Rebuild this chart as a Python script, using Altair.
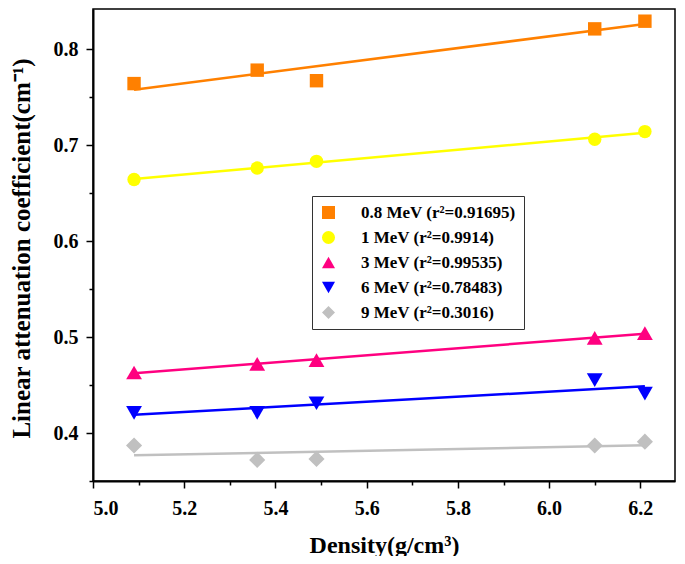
import altair as alt
import pandas as pd

# densities (g/cm3) shared by all energies
density = [5.09, 5.36, 5.49, 6.10, 6.21]

series = [
    "0.8 MeV (r²=0.91695)",
    "1 MeV (r²=0.9914)",
    "3 MeV (r²=0.99535)",
    "6 MeV (r²=0.78483)",
    "9 MeV (r²=0.3016)",
]
mu_08 = [0.764, 0.778, 0.767, 0.821, 0.829]
mu_1 = [0.664, 0.676, 0.683, 0.706, 0.714]
mu_3 = [0.463, 0.472, 0.476, 0.499, 0.504]
mu_6 = [0.421, 0.421, 0.431, 0.455, 0.441]
mu_9 = [0.387, 0.372, 0.373, 0.387, 0.391]

colors = ["#FF8000", "#FFFF00", "#FF0080", "#0000FF", "#C0C0C0"]
shapes = ["square", "circle", "triangle-up", "triangle-down", "diamond"]

x_major = [5.0, 5.2, 5.4, 5.6, 5.8, 6.0, 6.2]
x_minor = [5.1, 5.3, 5.5, 5.7, 5.9, 6.1]
y_major = [0.4, 0.5, 0.6, 0.7, 0.8]
y_minor = [0.35, 0.45, 0.55, 0.65, 0.75]

rows = []
for name, vals in zip(series, [mu_08, mu_1, mu_3, mu_6, mu_9]):
    for d, v in zip(density, vals):
        rows.append({"series": name, "density": d, "mu": v})
df = pd.DataFrame(rows)

FONT = "Liberation Serif"
W, H = 582, 472

# the frame is cut a little inside the round numbers, like the original
xs = alt.Scale(domain=[5.0, 6.276], nice=False, zero=False)
ys = alt.Scale(domain=[0.35, 0.8417], nice=False, zero=False)
cs = alt.Scale(domain=series, range=colors)
ss = alt.Scale(domain=series, range=shapes)

x_axis = alt.Axis(
    orient="bottom", values=x_major, format=".1f", tickSize=7,
    labelPadding=10, title="Density(g/cm³)", titleX=W / 2, titleY=64,
    titleBaseline="middle", titleAlign="center", titleFontSize=24,
)
y_axis = alt.Axis(
    orient="left", values=y_major, format=".1f", tickSize=7,
    labelPadding=8, title="Linear attenuation coefficient(cm⁻¹)",
    titleX=-72, titleY=H / 2 + 3, titleAngle=270, titleBaseline="middle",
    titleAlign="center", titleFontSize=25,
)

# one fitted line per energy, fixed colour (keeps the legend free of line marks)
fits = []
for name, col in zip(series, colors):
    fits.append(
        alt.Chart(df)
        .transform_filter(alt.datum.series == name)
        .transform_regression("density", "mu")
        .mark_line(color=col, strokeWidth=2.5)
        .encode(
            x=alt.X("density:Q", scale=xs, axis=None),
            y=alt.Y("mu:Q", scale=ys, axis=None),
        )
    )

leg = alt.Legend(
    title=None, orient="none", legendX=219, legendY=187,
    symbolSize=170, symbolOpacity=1, symbolStrokeWidth=0,
)

tri = alt.FieldOneOfPredicate(field="series", oneOf=[series[2], series[3]])
dia = alt.FieldOneOfPredicate(field="series", oneOf=[series[4]])

points = (
    alt.Chart(df)
    .mark_point(filled=True, opacity=1)
    .encode(
        x=alt.X("density:Q", scale=xs, axis=x_axis),
        y=alt.Y("mu:Q", scale=ys, axis=y_axis),
        color=alt.Color("series:N", scale=cs, legend=leg),
        shape=alt.Shape("series:N", scale=ss, legend=leg),
        size=alt.when(tri).then(alt.value(250))
        .when(dia).then(alt.value(260))
        .otherwise(alt.value(180)),
    )
)

# minor ticks, no labels
minor = (
    alt.Chart(df)
    .mark_point(opacity=0)
    .encode(
        x=alt.X("density:Q", scale=xs, axis=alt.Axis(
            orient="bottom", values=x_minor, labels=False, tickSize=4,
            title=None, domain=False)),
        y=alt.Y("mu:Q", scale=ys, axis=alt.Axis(
            orient="left", values=y_minor, labels=False, tickSize=4,
            title=None, domain=False)),
    )
)

chart = (
    alt.layer(*fits, points, minor)
    .resolve_axis(x="independent", y="independent")
    .properties(
        width=W, height=H, autosize=alt.AutoSizeParams(type="none"),
        padding={"left": 85, "top": 1, "right": 2, "bottom": 75},
        background="white",
    )
    .configure_view(stroke="black", strokeWidth=1.5)
    .configure_axis(
        grid=False, domainColor="black", domainWidth=2, tickColor="black",
        tickWidth=1.5, labelFont=FONT, labelFontWeight="bold",
        labelFontSize=20, labelColor="black", titleFont=FONT,
        titleFontWeight="bold", titleColor="black",
    )
    .configure_legend(
        labelFont=FONT, labelFontWeight="bold", labelFontSize=17,
        labelColor="black", strokeColor="#333333", fillColor="white",
        padding=8, rowPadding=7, labelOffset=24,
    )
)

chart.save("out.html", embed_options={"renderer": "svg", "actions": False})
